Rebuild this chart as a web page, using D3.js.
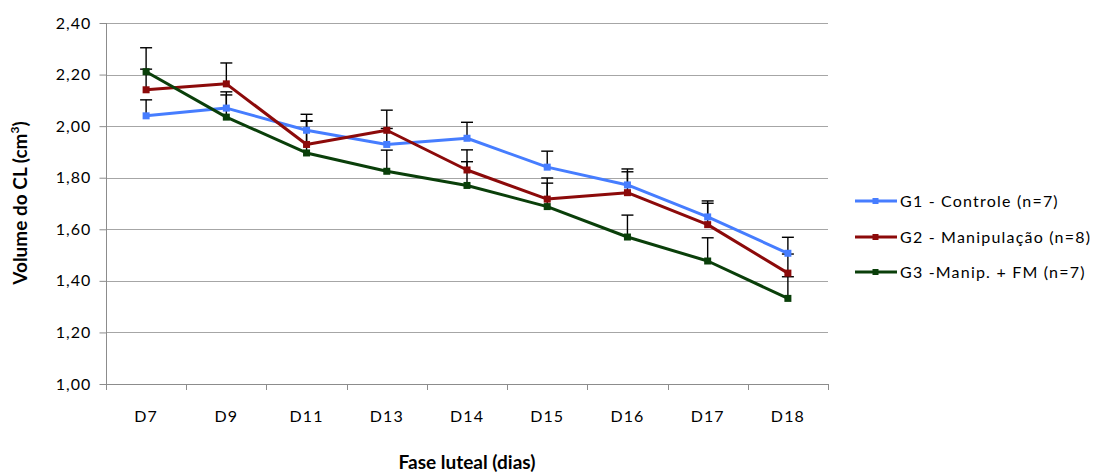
<!DOCTYPE html>
<html><head><meta charset="utf-8">
<script src="https://cdn.jsdelivr.net/npm/d3@7/dist/d3.min.js"></script>
<style>body{margin:0;background:#fff;} svg{display:block;font-family:Lato,"Open Sans",sans-serif;}</style>
</head><body>
<svg id="c" width="1106" height="473"></svg>
<script>
const categories = ["D7","D9","D11","D13","D14","D15","D16","D17","D18"];
const seriesNames = ["G1 - Controle (n=7)","G2 - Manipulação (n=8)","G3 -Manip. + FM (n=7)"];
const g1 = [2.04,2.07,1.984,1.929,1.953,1.841,1.772,1.648,1.507];
const g2 = [2.141,2.164,1.929,1.984,1.830,1.717,1.742,1.618,1.430];
const g3 = [2.211,2.035,1.896,1.825,1.770,1.688,1.570,1.477,1.332];
const g1err = [0.062,0.063,0.062,0.062,0.062,0.062,0.062,0.062,0.062];
const g2err = [0.08,0.081,0.09,0.078,0.078,0.082,0.081,0.083,0.074];
const g3err = [0.093,0.086,0.125,0.082,0.092,0.091,0.085,0.09,0.084];
const yTicks = [1.0,1.2,1.4,1.6,1.8,2.0,2.2,2.4];
const colors = ["#467DFF","#8C0A0A","#0A3F0A"];

const series = [
  {name: seriesNames[0], values: g1, err: g1err, color: colors[0]},
  {name: seriesNames[1], values: g2, err: g2err, color: colors[1]},
  {name: seriesNames[2], values: g3, err: g3err, color: colors[2]}
];

const svg = d3.select("#c");
const L = 106, R = 828, T = 23, B = 384;
const x = d3.scaleBand().domain(categories).range([L, R]);
const y = d3.scaleLinear().domain([1.0, 2.4]).range([B, T]);
const fmt = v => d3.format(".2f")(v).replace(".", ",");
const FF = "Lato, 'Open Sans', sans-serif";

// gridlines
svg.append("g").selectAll("line").data(yTicks.slice(1)).join("line")
  .attr("x1", L).attr("x2", R)
  .attr("y1", d => Math.round(y(d)) + 0.5).attr("y2", d => Math.round(y(d)) + 0.5)
  .attr("stroke", "#A6A6A6").attr("stroke-width", 1);

// y axis
const ya = svg.append("g").attr("transform", `translate(${L + 0.5},0)`)
  .call(d3.axisLeft(y).tickValues(yTicks).tickFormat(fmt).tickSize(7).tickPadding(8));
ya.select(".domain").attr("stroke", "#8C8C8C").attr("d", `M0,${T}V${B}`);
ya.selectAll(".tick line").attr("stroke", "#8C8C8C");
ya.selectAll(".tick text").attr("font-size", 16).attr("letter-spacing", 1.1).attr("fill", "#000").attr("font-family", FF);

// x axis
const xa = svg.append("g").attr("transform", `translate(0,${B + 0.5})`)
  .call(d3.axisBottom(x).tickSize(0).tickPadding(26));
xa.select(".domain").attr("stroke", "#8C8C8C").attr("d", `M${L},0H${R}`);
xa.selectAll(".tick text").attr("font-size", 16).attr("letter-spacing", 1.1).attr("fill", "#000").attr("font-family", FF);
svg.append("g").selectAll("line").data(categories.concat(["end"])).join("line")
  .attr("x1", (d, i) => Math.round(L + i * x.bandwidth()) + 0.5)
  .attr("x2", (d, i) => Math.round(L + i * x.bandwidth()) + 0.5)
  .attr("y1", B).attr("y2", B + 6).attr("stroke", "#8C8C8C");

const cx = d => x(d) + x.bandwidth() / 2;

// error bars (upper only)
series.forEach(s => {
  const g = svg.append("g");
  s.values.forEach((v, i) => {
    const xc = cx(categories[i]);
    g.append("line").attr("x1", xc).attr("x2", xc).attr("y1", y(v)).attr("y2", y(v + s.err[i]))
      .attr("stroke", "#000").attr("stroke-width", 1.4);
    g.append("line").attr("x1", xc - 6).attr("x2", xc + 6).attr("y1", y(v + s.err[i])).attr("y2", y(v + s.err[i]))
      .attr("stroke", "#000").attr("stroke-width", 1.4);
  });
});

// lines & markers
const line = d3.line().x((d, i) => cx(categories[i])).y(d => y(d));
series.forEach(s => {
  svg.append("path").datum(s.values).attr("d", line).attr("fill", "none")
    .attr("stroke", s.color).attr("stroke-width", 3).attr("stroke-linejoin", "round");
  svg.append("g").selectAll("rect").data(s.values).join("rect")
    .attr("x", (d, i) => cx(categories[i]) - 3.5).attr("y", d => y(d) - 3.5)
    .attr("width", 7).attr("height", 7).attr("fill", s.color);
});

// legend
const legY = [201, 237, 272];
series.forEach((s, i) => {
  const g = svg.append("g").attr("transform", `translate(855,${legY[i]})`);
  g.append("line").attr("x1", 0).attr("x2", 42).attr("y1", 0).attr("y2", 0).attr("stroke", s.color).attr("stroke-width", 3);
  g.append("rect").attr("x", 17.5).attr("y", -3).attr("width", 6).attr("height", 6).attr("fill", s.color);
  g.append("text").attr("x", 45).attr("y", 0).attr("dy", "0.36em").attr("font-size", 16).attr("letter-spacing", 1.2).text(s.name);
});

// axis titles
svg.append("text").attr("x", 467).attr("y", 469).attr("text-anchor", "middle")
  .attr("font-size", 19).attr("font-weight", "bold").text("Fase luteal (dias)");
const yt = svg.append("text").attr("transform", "translate(27,203) rotate(-90)").attr("text-anchor", "middle")
  .attr("font-size", 19).attr("font-weight", "bold");
yt.append("tspan").text("Volume do CL (cm");
yt.append("tspan").attr("font-size", 12).attr("dy", -8).text("3");
yt.append("tspan").attr("dy", 8).text(")");
</script>
</body></html>
